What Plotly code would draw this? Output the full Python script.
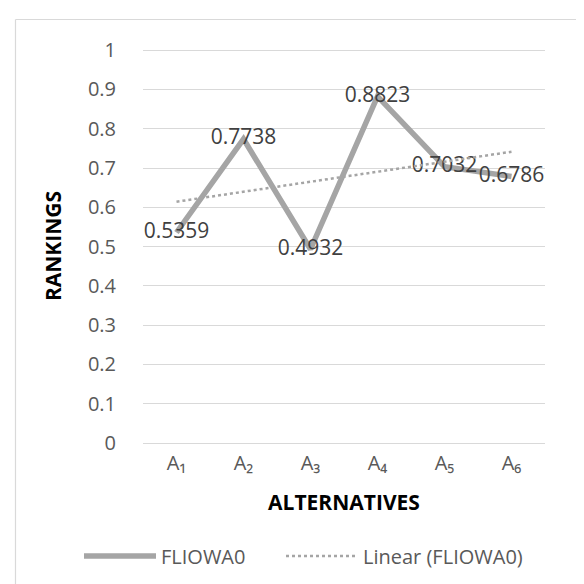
import numpy as np
import plotly.graph_objects as go

categories = ["A₁", "A₂", "A₃", "A₄", "A₅", "A₆"]
fliowa0 = [0.5359, 0.7738, 0.4932, 0.8823, 0.7032, 0.6786]
label_text = ["0.5359", "0.7738", "0.4932", "0.8823", "0.7032", "0.6786"]
y_ticks = [0, 0.1, 0.2, 0.3, 0.4, 0.5, 0.6, 0.7, 0.8, 0.9, 1]
y_tick_text = ["0", "0.1", "0.2", "0.3", "0.4", "0.5", "0.6", "0.7", "0.8", "0.9", "1"]

# linear trendline (least squares, like Excel)
xi = np.arange(1, len(fliowa0) + 1)
slope, intercept = np.polyfit(xi, fliowa0, 1)
trend = list(slope * xi + intercept)

W, H = 584, 584
L, R, T, B = 135, 47, 41, 149
pw, ph = W - L - R, H - T - B

def px_x(p):
    return (p - L) / pw

def px_y(p):
    return (H - B - p) / ph

FONT = "Open Sans"

fig = go.Figure()
fig.add_trace(go.Scatter(
    x=categories, y=fliowa0, mode="lines+text", name="FLIOWA0",
    line=dict(color="#a5a5a5", width=5.5),
    text=label_text, textposition="middle center",
    textfont=dict(family=FONT, size=21, color="#404040"),
    legend="legend",
))
fig.add_trace(go.Scatter(
    x=categories, y=trend, mode="lines", name="Linear (FLIOWA0)",
    line=dict(color="#a5a5a5", width=2.5, dash="dot"),
    legend="legend2",
))

leg_common = dict(
    orientation="h", yanchor="middle", y=px_y(548), xanchor="left",
    font=dict(family=FONT, size=20, color="#595959"),
    itemwidth=72, bgcolor="rgba(0,0,0,0)",
)

border = dict(color="#d9d9d9", width=1.2)
fig.update_layout(
    width=W, height=H,
    margin=dict(l=L, r=R, t=T, b=B, pad=0),
    paper_bgcolor="white", plot_bgcolor="white",
    font=dict(family=FONT, color="#595959", size=20),
    showlegend=True,
    legend=dict(x=px_x(71), **leg_common),
    legend2=dict(x=px_x(273), **leg_common),
    shapes=[
        dict(type="line", xref="paper", yref="paper",
             x0=px_x(7.5), x1=px_x(584), y0=px_y(11.5), y1=px_y(11.5),
             line=border, layer="below"),
        dict(type="line", xref="paper", yref="paper",
             x0=px_x(7.5), x1=px_x(7.5), y0=px_y(11.5), y1=px_y(584),
             line=border, layer="below"),
    ],
)

fig.update_xaxes(
    type="category", range=[-0.5, 5.5],
    showgrid=False, zeroline=False, showline=False,
    ticks="outside", ticklen=2, tickcolor="rgba(0,0,0,0)",
    tickfont=dict(family=FONT, size=20, color="#595959"),
    title=dict(text="<b>ALTERNATIVES</b>", standoff=20,
               font=dict(family=FONT, size=21, color="#000000")),
)
fig.update_yaxes(
    range=[0, 1.003], tickvals=y_ticks, ticktext=y_tick_text,
    showgrid=True, gridcolor="#d9d9d9", gridwidth=1.3,
    zeroline=True, zerolinecolor="#d9d9d9", zerolinewidth=1.3,
    showline=False,
    ticks="outside", ticklen=22, tickcolor="rgba(0,0,0,0)",
    tickfont=dict(family=FONT, size=20, color="#595959"),
    title=dict(text="<b>RANKINGS</b>", standoff=20,
               font=dict(family=FONT, size=21, color="#000000")),
)

fig.write_html("out.html")
